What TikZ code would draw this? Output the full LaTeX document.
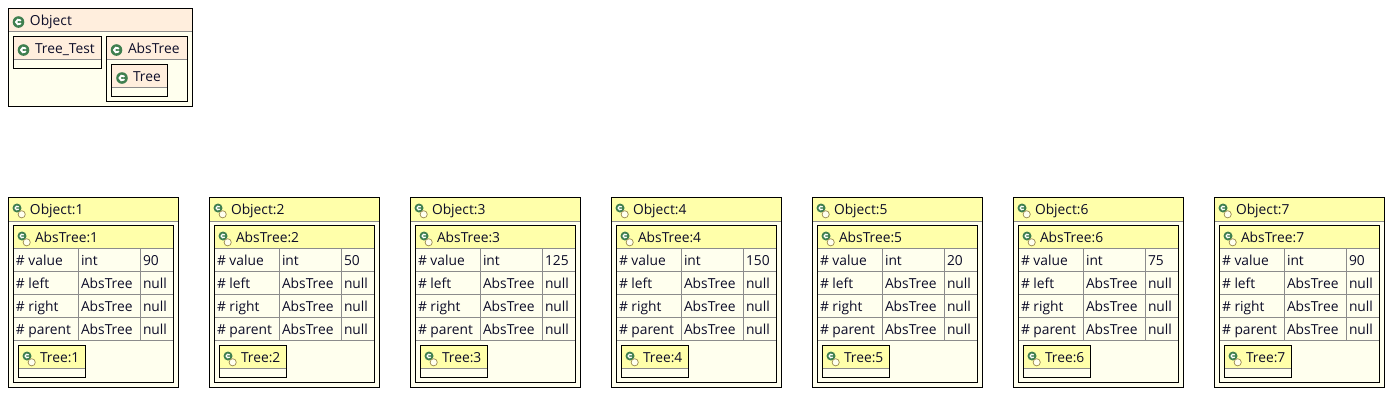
\documentclass[tikz,border=0pt]{standalone}
\usepackage{fontspec}
\setmainfont{Open Sans}
\definecolor{hdrA}{HTML}{FFEEDD}
\definecolor{hdrB}{HTML}{FFFFAA}
\definecolor{bodyC}{HTML}{FFFFEE}
\definecolor{rowline}{HTML}{8C8C8C}
\definecolor{icongreen}{HTML}{3F7F4F}
\definecolor{textc}{HTML}{0C0C28}
\definecolor{ringc}{HTML}{9A8A50}
\tikzset{
  x=1pt,y=-1pt,
  boxline/.style={draw=black,line width=1pt,fill=bodyC},
  sep/.style={draw=rowline,line width=1pt},
  lab/.style={anchor=base west,inner sep=0pt,outer sep=0pt,font=\fontsize{13.8}{16}\selectfont,text=textc},
}
\newcommand{\cglyph}[4]{% x,y,scale,width
  \draw[white,line width=#4pt,line cap=round,shift={(#1,#2)},scale=#3]
    (2.1,-1.7) .. controls (0.7,-3.1) and (-2.6,-2.6) .. (-2.6,0)
    .. controls (-2.6,2.6) and (0.7,3.1) .. (2.1,1.7);
}
\newcommand{\clsicon}[2]{% x,y
  \fill[icongreen] (#1,#2) circle[radius=5.8];
  \cglyph{#1}{#2}{.95}{1.9}
}
\newcommand{\insticon}[2]{%
  \fill[icongreen] (#1,#2) circle[radius=4.5];
  \cglyph{#1}{#2}{.7}{1.3}
  \draw[draw=ringc,fill=bodyC,line width=.7pt] (#1+4.7,#2+6.3) circle[radius=3.6];
}
\newcommand{\umlbox}[6]{% x1,y1,x2,y2,ysep,hdr
  \draw[boxline] (#1,#2) rectangle (#3,#4);
  \fill[#6] (#1+.5,#2+.5) rectangle (#3-.5,#5);
  \draw[sep] (#1+.5,#5) -- (#3-.5,#5);
  \draw[draw=black,line width=1pt] (#1,#2) rectangle (#3,#4);
}
\begin{document}
\begin{tikzpicture}
\useasboundingbox (0,0) rectangle (1393,416);
\fill[white] (0,0) rectangle (1393,416);
% class hierarchy
\umlbox{8.5}{8.5}{192.5}{106.5}{31.5}{hdrA}
\clsicon{18.5}{22}
\node[lab] (objT) at (30,25.5) {Object};
\umlbox{13.5}{36.5}{101.5}{68.5}{59.5}{hdrA}
\clsicon{23.5}{50}
\node[lab] (ttT) at (35,53.5) {Tree\_Test};
\umlbox{106.5}{36.5}{187.5}{101.5}{59.5}{hdrA}
\clsicon{116.5}{50}
\node[lab] (atT) at (128,53.5) {AbsTree};
\umlbox{111.5}{64.5}{167.5}{96.5}{87.5}{hdrA}
\clsicon{122}{78}
\node[lab] (trT) at (133,81.5) {Tree};
% instances
\foreach \n/\ox/\v in {1/0/90,2/201/50,3/402/125,4/603/150,5/804/20,6/1005/75,7/1206/90}{
  \begin{scope}[shift={(\ox pt,0)}]
    \umlbox{8.5}{197.5}{178.5}{387.5}{221.5}{hdrB}
    \insticon{17}{208}
    \node[lab] (o\n) at (30,214.5) {Object:\n};
    \umlbox{13.5}{225.5}{173.5}{382.5}{248.5}{hdrB}
    \insticon{22}{236}
    \node[lab] (a\n) at (35,242.5) {AbsTree:\n};
    \foreach \yy in {271.5,294.5,317.5,340.5}
      \draw[sep] (14,\yy) -- (173,\yy);
    \draw[sep] (78.5,249) -- (78.5,340.5);
    \draw[sep] (140.5,249) -- (140.5,340.5);
    \foreach \row/\name/\ty/\val/\yy in {
      va/\# value/int/\v/265.5,
      le/\# left/AbsTree/null/288.5,
      ri/\# right/AbsTree/null/311.5,
      pa/\# parent/AbsTree/null/334.5}{
      \node[lab] (\row a\n) at (16,\yy) {\name};
      \node[lab] (\row b\n) at (81,\yy) {\ty};
      \node[lab] (\row c\n) at (143,\yy) {\val};
    }
    \umlbox{18.5}{345.5}{85.5}{377.5}{368.5}{hdrB}
    \insticon{27}{356}
    \node[lab] (t\n) at (40,362.5) {Tree:\n};
  \end{scope}
}
\end{tikzpicture}
\end{document}
